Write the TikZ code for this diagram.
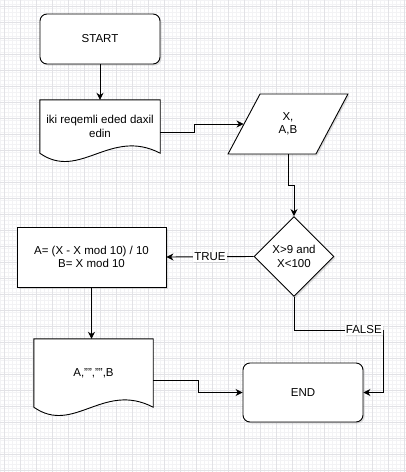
\documentclass[tikz,border=0pt]{standalone}
\usepackage{fontspec}
\setmainfont{Liberation Sans}
\usetikzlibrary{shapes.geometric,arrows.meta,calc,shadows,backgrounds}
\definecolor{gridmaj}{HTML}{E2E2E6}
\definecolor{gridmin}{HTML}{F3F3F5}
\tikzset{
  base/.style={draw,fill=white,line width=0.9pt,align=center,font=\fontsize{11.5}{13.5}\selectfont},
  shade/.style={drop shadow={opacity=0.25,shadow xshift=1.5pt,shadow yshift=-1.5pt}},
  term/.style={base,shade,rectangle,rounded corners=7pt,minimum width=120pt,minimum height=50pt},
  proc/.style={base,shade,rectangle,minimum width=149pt,minimum height=60pt},
  io/.style={base,shade,trapezium,trapezium left angle=64,trapezium right angle=116,
    trapezium stretches=true,minimum width=120pt,minimum height=60pt},
  cond/.style={base,shade,diamond,minimum width=80pt,minimum height=80pt,inner sep=1pt},
  doc/.style={draw=none,rectangle,align=center,font=\fontsize{11.5}{13.5}\selectfont},
  arr/.style={line width=0.9pt,-{Stealth[length=7pt,width=7pt]}},
  lbl/.style={fill=white,inner sep=1pt,font=\fontsize{11.5}{13.5}\selectfont,
    drop shadow={opacity=0.2,shadow xshift=1pt,shadow yshift=-1pt}}
}
\newcommand\docwave[1]{\draw[line width=0.9pt,fill=white] (#1.south west) -- (#1.north west)
  -- (#1.north east) -- (#1.south east)
  .. controls ($(#1.south east)+(-50,-26)$) and ($(#1.south west)+(40,28)$) .. (#1.south west) -- cycle;}

\begin{document}
\begin{tikzpicture}[x=1pt,y=-1pt]
  \useasboundingbox (0,0) rectangle (406,472);
  \begin{scope}[on background layer]
    \fill[white] (0,0) rectangle (406,472);
    \foreach \g in {0,4,...,472} \draw[gridmin,line width=0.5pt] (0,\g) -- (406,\g);
    \foreach \g in {0,4,...,406} \draw[gridmin,line width=0.5pt] (\g,0) -- (\g,472);
    \foreach \g in {6,22,...,472} \draw[gridmaj,line width=0.6pt] (0,\g) -- (406,\g);
    \foreach \g in {4,20,...,406} \draw[gridmaj,line width=0.6pt] (\g,0) -- (\g,472);
  \end{scope}

  \node (start)[term] at (100,39) {START};
  \node (read)[doc,minimum width=120pt,minimum height=53pt] at (100,126.5) {iki reqemli eded daxil\\edin};
  \node (inp)[io] at (288,124) {X,\\A,B};
  \node (check)[cond] at (294,256.5) {X>9 and\\X<100};
  \node (calc)[proc] at (91.5,257) {A= (X - X mod 10) / 10\\B= X mod 10};
  \node (show)[doc,minimum width=119pt,minimum height=68pt] at (93.5,373) {A,"","",B};
  \node (end)[term,minimum height=59pt] at (303,392.5) {END};

  \begin{scope}[on background layer]
    \docwave{read}
    \docwave{show}
  \end{scope}

  \draw[arr] (start) -- (read);
  \draw[arr] ([yshift=-6pt]read.east) -- ++(34,0) |- (inp.west);
  \draw[arr] (inp.south) -- ++(0,31) -| (check.north);
  \draw[arr] (check.west) -- node[lbl]{TRUE} (calc.east);
  \draw[arr] (calc.south) -- (calc.south |- show.north);
  \draw[arr] ([yshift=-7pt]show.east) -- ++(45,0) |- (end.west);
  \draw[arr] (check.south) -- ++(0,33) -| ($(end.east)+(20,0)$) node[lbl,pos=0.39]{FALSE} -- (end.east);
\end{tikzpicture}
\end{document}
